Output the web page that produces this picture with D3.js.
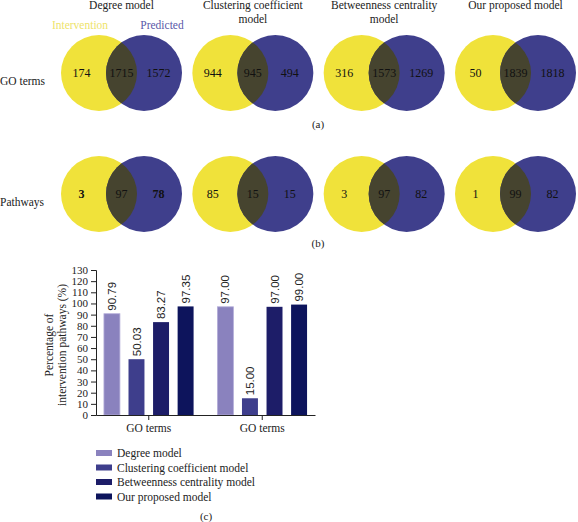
<!DOCTYPE html>
<html><head><meta charset="utf-8">
<script src="https://cdn.jsdelivr.net/npm/d3@7"></script>
<style>html,body{margin:0;padding:0;background:#fff}svg{display:block}</style>
</head><body><svg id="c" width="578" height="522"></svg>
<script>
// ---------- data ----------
const models = ["Degree model","Clustering coefficient model","Betweenness centrality model","Our proposed model"];
const modelTitles = [["Degree model"],["Clustering coefficient","model"],["Betweenness centrality","model"],["Our proposed model"]];
const vennSets = ["Intervention","Predicted"];
const rowLabels = ["GO terms","Pathways"];
const goIntOnly = [174,944,316,50];
const goBoth = [1715,945,1573,1839];
const goPredOnly = [1572,494,1269,1818];
const pwIntOnly = [3,85,3,1];
const pwBoth = [97,15,97,99];
const pwPredOnly = [78,15,82,82];
const pwBold = [true,false,false,false];
const barCategories = ["GO terms","GO terms"];
const barValues0 = [90.79,50.03,83.27,97.35];
const barValues1 = [97.00,15.00,97.00,99.00];
const yTicks = [0,10,20,30,40,50,60,70,80,90,100,110,120,130];
const yLabel = ["Percentage of","intervention pathways (%)"];
const panelLabels = ["(a)","(b)","(c)"];

// ---------- styles ----------
const FONT = "'Liberation Serif','Times New Roman',serif";
const YEL = "#f0e23a", BLU = "#3f3f8c", OVL = "#46442f";
const barColors = ["#8a82be","#3e3e8c","#1d1d68","#0d145c"];

const svg = d3.select("#c").style("font-family", FONT);

// ---------- Venn rows ----------
const R = 38, OFF = 45;
const gx = d3.scalePoint().domain(models).range([99, 493]);
const rowY = d3.scalePoint().domain(rowLabels).range([73, 194]);

const defs = svg.append("defs");
models.forEach((m,i)=>{
  rowLabels.forEach((r,j)=>{
    defs.append("clipPath").attr("id",`cp${i}_${j}`)
      .append("circle").attr("cx",gx(m)).attr("cy",rowY(r)).attr("r",R);
  });
});

// titles
models.forEach((m,i)=>{
  const cx = gx(m) + OFF/2;
  modelTitles[i].forEach((t,k)=>{
    svg.append("text").attr("x",cx).attr("y",9 + k*14).attr("text-anchor","middle")
      .attr("font-size",11.5).attr("fill","#222").text(t);
  });
});
// set labels
svg.append("text").attr("x",gx(models[0])-19).attr("y",29).attr("text-anchor","middle")
  .attr("font-size",11.5).attr("fill","#eee36a").text(vennSets[0]);
svg.append("text").attr("x",gx(models[0])+OFF+18).attr("y",29).attr("text-anchor","middle")
  .attr("font-size",11.5).attr("fill","#5a58a8").text(vennSets[1]);

const rows = [
  {name:rowLabels[0], a:goIntOnly, b:goBoth, c:goPredOnly, bold:[false,false,false,false]},
  {name:rowLabels[1], a:pwIntOnly, b:pwBoth, c:pwPredOnly, bold:pwBold}
];
rows.forEach((row,j)=>{
  const cy = rowY(row.name);
  svg.append("text").attr("x",0).attr("y",cy+12).attr("font-size",11.5).attr("fill","#222").text(row.name);
  models.forEach((m,i)=>{
    const yc = gx(m), bc = yc + OFF;
    svg.append("circle").attr("cx",yc).attr("cy",cy).attr("r",R).attr("fill",YEL);
    svg.append("circle").attr("cx",bc).attr("cy",cy).attr("r",R).attr("fill",BLU);
    svg.append("circle").attr("cx",bc).attr("cy",cy).attr("r",R).attr("fill",OVL)
      .attr("clip-path",`url(#cp${i}_${j})`);
    const xs = [(yc - R + bc - R)/2 - 2, (yc+bc)/2, (yc + R + bc + R)/2 - 1];
    const vals = [row.a[i], row.b[i], row.c[i]];
    vals.forEach((v,k)=>{
      svg.append("text").attr("x",xs[k]).attr("y",cy).attr("dy","0.35em")
        .attr("text-anchor","middle").attr("font-size",12)
        .attr("font-weight", (row.bold[i] && k!==1) ? "bold" : "normal")
        .attr("fill","#111").text(v);
    });
  });
});
svg.append("text").attr("x",318).attr("y",128).attr("text-anchor","middle").attr("font-size",11).attr("fill","#222").text(panelLabels[0]);
svg.append("text").attr("x",318).attr("y",247).attr("text-anchor","middle").attr("font-size",11).attr("fill","#222").text(panelLabels[1]);

// ---------- bar chart ----------
const y = d3.scaleLinear().domain([0,130]).range([415,270]);
const groups = barCategories.map((c,i)=>i);
const x0 = d3.scaleBand().domain(groups).range([96,315]).paddingInner(0.21).paddingOuter(0.07);
const x1 = d3.scaleBand().domain(models).range([0,x0.bandwidth()]).paddingInner(0.35);
const barData = [barValues0, barValues1];
const color = d3.scaleOrdinal().domain(models).range(barColors);

const yAxis = svg.append("g").attr("transform","translate(96,0)")
  .call(d3.axisLeft(y).tickValues(yTicks).tickSize(5).tickPadding(3));
yAxis.selectAll("text").attr("font-size",11).attr("font-family",FONT).attr("fill","#222");
yAxis.selectAll("line,path").attr("stroke","#222");

const gBars = svg.append("g");
groups.forEach(g=>{
  models.forEach((m,k)=>{
    const v = barData[g][k];
    const bx = x0(g) + x1(m);
    gBars.append("rect").attr("x",bx).attr("y",y(v)).attr("width",x1.bandwidth())
      .attr("height",y(0)-y(v)).attr("fill",color(m))
      .attr("stroke", k===0 ? "#b3acd8" : "none").attr("stroke-width",0.8);
    gBars.append("text")
      .attr("transform",`translate(${bx + x1.bandwidth()/2},${y(v)-3}) rotate(-90)`)
      .attr("dy","0.35em").attr("font-size",11.5)
      .attr("font-family","'Liberation Sans',Arial,sans-serif")
      .attr("fill","#222").text(v.toFixed(2));
  });
});

const xAxis = svg.append("g").attr("transform","translate(0,415)")
  .call(d3.axisBottom(x0).tickSize(5).tickSizeOuter(0).tickPadding(4).tickFormat(i=>barCategories[i]));
xAxis.selectAll("text").attr("font-size",11.5).attr("font-family",FONT).attr("fill","#222");
xAxis.selectAll("line,path").attr("stroke","#222");

// y label
const yl = svg.append("text").attr("transform","translate(53,345) rotate(-90)")
  .attr("text-anchor","middle").attr("font-size",11.5).attr("fill","#222");
yl.append("tspan").attr("x",0).attr("dy",0).text(yLabel[0]);
yl.append("tspan").attr("x",0).attr("dy","1.15em").text(yLabel[1]);

// legend
const leg = svg.append("g");
models.forEach((m,k)=>{
  const ly = 453 + k*14.5;
  leg.append("rect").attr("x",96).attr("y",ly-3).attr("width",16).attr("height",6).attr("fill",color(m));
  leg.append("text").attr("x",117).attr("y",ly).attr("dy","0.35em").attr("font-size",11.5).attr("fill","#222").text(m);
});
svg.append("text").attr("x",206).attr("y",520).attr("text-anchor","middle").attr("font-size",11).attr("fill","#222").text(panelLabels[2]);
</script></body></html>
